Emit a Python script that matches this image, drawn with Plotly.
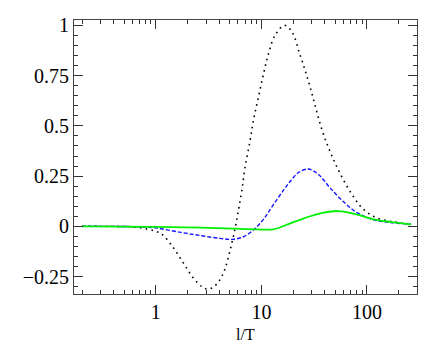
import plotly.graph_objects as go

# values
black_x = [0.2, 0.4, 0.62, 0.83, 1.0, 1.16, 1.44, 1.79, 2.22, 2.77, 3.1, 3.5, 4.0, 4.5, 5.06,
           5.64, 6.07, 6.54, 7.02, 7.83, 8.42, 9.39, 10.5, 11.7, 13.5, 16.6, 19.5, 23.0,
           26.0, 29.5, 33.0, 37.4, 43.3, 50.1, 60.0, 74.6, 92.9, 124, 179, 262]
black_y = [0.0, 0.0, -0.003, -0.014, -0.025, -0.043, -0.101, -0.176, -0.251, -0.303, -0.313,
           -0.303, -0.27, -0.215, -0.118, -0.01, 0.081, 0.181, 0.297, 0.429, 0.529, 0.645,
           0.761, 0.861, 0.952, 1.0, 0.968, 0.86, 0.775, 0.678, 0.582, 0.482, 0.39, 0.313,
           0.23, 0.147, 0.084, 0.042, 0.022, 0.01]

blue_x = [0.2, 0.5, 0.8, 1.0, 1.72, 2.63, 4.07, 5.3, 6.77, 8.42, 10.5, 13.0, 16.2, 18.8,
          22.5, 27.9, 34.8, 44.9, 60.0, 80.4, 116, 166, 262]
blue_y = [0.0, -0.001, -0.004, -0.008, -0.03, -0.046, -0.06, -0.065, -0.052, -0.018, 0.036,
          0.108, 0.18, 0.224, 0.268, 0.285, 0.258, 0.19, 0.122, 0.068, 0.032, 0.019, 0.01]

green_x = [0.2, 1.0, 2.63, 5.44, 9.1, 13.0, 18.8, 23.4, 29.1, 38.8, 53.8, 74.6, 116, 166, 262]
green_y = [0.0, -0.003, -0.007, -0.012, -0.015, -0.015, 0.015, 0.033, 0.05, 0.068, 0.076,
           0.063, 0.035, 0.022, 0.01]

y_ticks = [-0.25, 0, 0.25, 0.5, 0.75, 1]
y_labels = ["\u22120.25", "0", "0.25", "0.5", "0.75", "1"]
x_ticks = [1, 10, 100]
x_labels = ["1", "10", "100"]
x_minor = [m * 10 ** e for e in (-1, 0, 1, 2) for m in range(2, 10) if 0.17 < m * 10 ** e < 300]

fig = go.Figure()
fig.add_trace(go.Scatter(x=black_x, y=black_y, mode="lines", line_shape="spline",
                         line=dict(color="black", width=1.6, dash="1.6px,4.2px")))
fig.add_trace(go.Scatter(x=blue_x, y=blue_y, mode="lines", line_shape="spline",
                         line=dict(color="rgb(20,20,255)", width=1.4, dash="4px,2px")))
fig.add_trace(go.Scatter(x=green_x, y=green_y, mode="lines", line_shape="spline",
                         line=dict(color="rgb(0,240,0)", width=1.8)))

serif = "Liberation Serif, Times New Roman, serif"
fig.update_layout(
    template="none",
    width=422, height=344,
    margin=dict(l=74, r=5, t=20, b=50),
    paper_bgcolor="white", plot_bgcolor="white",
    showlegend=False,
    font=dict(family=serif, color="black", size=20),
)
fig.update_xaxes(
    type="log", range=[-0.775, 2.474], automargin=False,
    tickmode="array", tickvals=x_ticks, ticktext=x_labels,
    ticks="inside", ticklen=9, tickwidth=1, tickcolor="#333",
    minor=dict(tickmode="array", tickvals=x_minor, ticks="inside", ticklen=4,
               tickwidth=1, tickcolor="#333", showgrid=False),
    showline=True, linecolor="#444", linewidth=1, mirror="allticks",
    showgrid=False, zeroline=False,
)
fig.update_yaxes(
    range=[-0.337, 1.027], automargin=False,
    tickmode="array", tickvals=y_ticks, ticktext=y_labels,
    ticks="inside", ticklen=9, tickwidth=1, tickcolor="#333",
    minor=dict(dtick=0.05, tick0=0, ticks="inside", ticklen=4, tickwidth=1,
               tickcolor="#333", showgrid=False),
    showline=True, linecolor="#444", linewidth=1, mirror="allticks",
    showgrid=False, zeroline=False,
)
# axis label placed as an annotation so it sits where the reference has it
fig.add_annotation(text="l/T", xref="paper", yref="paper", x=0.5, y=-0.146,
                   yanchor="middle", showarrow=False, font=dict(size=16))

# drop the default page margin so the figure starts at the window corner
fig.write_html("out.html", config={"displayModeBar": False},
               post_script="document.body.style.margin='0';document.body.style.overflow='hidden';")
